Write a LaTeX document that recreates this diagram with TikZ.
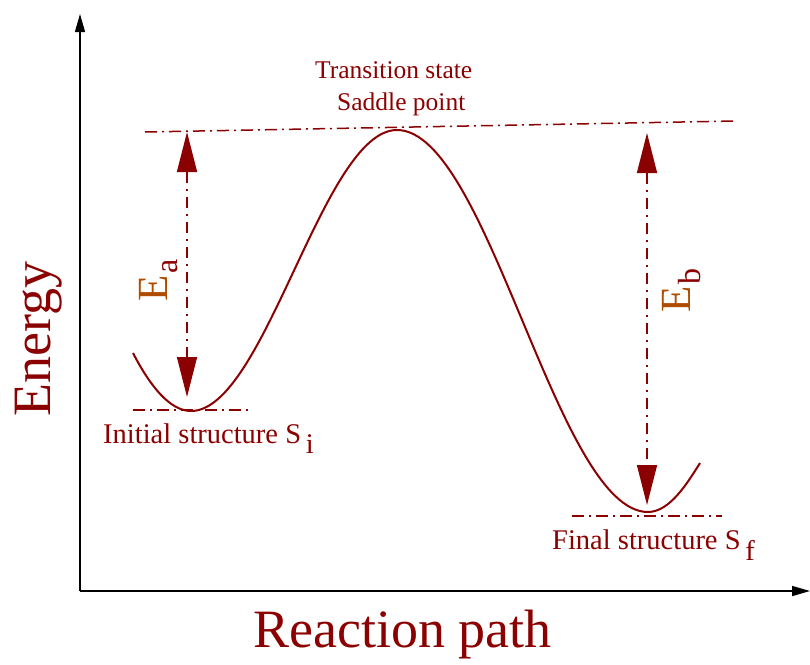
\documentclass[tikz,border=0pt]{standalone}
\usepackage{fontspec}
\setmainfont{Liberation Serif}
\usetikzlibrary{arrows.meta}
\definecolor{darkred}{RGB}{139,0,0}
\definecolor{eorange}{RGB}{176,76,0}
\newcommand{\fsz}[1]{\fontsize{#1}{#1}\selectfont}

\begin{document}
\begin{tikzpicture}[x=1pt,y=-1pt,
  dashdot/.style={darkred, line width=1.5pt, dash pattern=on 12pt off 5pt on 2pt off 5pt},
  barrier/.style={darkred, line width=1.5pt, dash pattern=on 11pt off 6pt on 2pt off 6pt,
    {Triangle[length=40pt,width=20pt]}-{Triangle[length=40pt,width=20pt]}},
  axis/.style={line width=1.5pt, -{Triangle[length=18pt,width=10pt]}},
  lbl/.style={darkred, inner sep=0pt, anchor=base west}]
\useasboundingbox (0,0) rectangle (810,664);
% axes
\coordinate (origin) at (80,591);
\coordinate (ytip) at (80,14);
\coordinate (xtip) at (810,591);
\draw[axis] (origin) -- (ytip);
\draw[axis] (origin) -- (xtip);
% energy curve
\coordinate (si) at (191,411);
\coordinate (ts) at (397,130);
\coordinate (sf) at (648,512);
\draw[darkred, line width=2pt] (133,353) .. controls (150,386) and (170,411) .. (si)
  .. controls (265,411) and (323,130) .. (ts)
  .. controls (488,130) and (557,512) .. (sf)
  .. controls (670,512) and (688,482) .. (700,463);
% reference levels
\coordinate (top1) at (145,132);
\coordinate (top2) at (735,121);
\coordinate (low1) at (133,410);
\coordinate (low2) at (250,410);
\coordinate (fin1) at (572,516);
\coordinate (fin2) at (722,516);
\draw[dashdot] (top1) -- (top2);
\draw[dashdot] (low1) -- (low2);
\draw[dashdot] (fin1) -- (fin2);
% barriers
\coordinate (ea1) at (187,132);
\coordinate (ea2) at (187,397);
\coordinate (eb1) at (647,133);
\coordinate (eb2) at (647,505);
\draw[barrier] (ea1) -- (ea2);
\draw[barrier] (eb1) -- (eb2);
\node[lbl, rotate=90] (ea) at (167,302) {{\color{eorange}\fsz{43}E}\,\raisebox{-10pt}{\fsz{32}a}};
\node[lbl, rotate=90] (eb) at (690,313) {{\color{eorange}\fsz{43}E}\,\raisebox{-10pt}{\fsz{32}b}};
% labels
\node[lbl] (trans) at (315,78) {\fsz{25.5}Transition state};
\node[lbl] (saddle) at (337,110) {\fsz{25.5}Saddle point};
\node[lbl] (init) at (103,443) {\fsz{28.5}Initial structure S\,\raisebox{-10pt}{i}};
\node[lbl] (final) at (552,549) {\fsz{28.5}Final structure S\,\raisebox{-11pt}{f}};
\node[lbl, rotate=90] (ylabel) at (50,417) {\fsz{54}Energy};
\node[lbl] (xlabel) at (253,647) {\fsz{54}Reaction path};
\end{tikzpicture}
\end{document}
